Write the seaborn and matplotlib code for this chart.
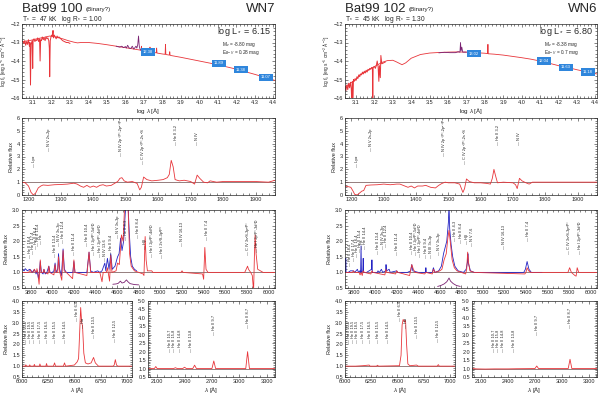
import matplotlib
matplotlib.use('Agg')
import pandas as pd
import seaborn as sns
import matplotlib.pyplot as plt

sns.set_style('ticks')
plt.rcParams['font.family'] = ['Liberation Sans', 'DejaVu Sans']
plt.rcParams['mathtext.fontset'] = 'custom'
plt.rcParams['mathtext.rm'] = 'Liberation Sans'
plt.rcParams['mathtext.it'] = 'Liberation Sans:italic'

RED = '#e8353a'
BLUE = '#2323c4'
PURPLE = '#7a2272'
GREY = '#6b4b4b'
BOX = '#2f86dc'

# ---------------- star info
names = ['Bat99 100', 'Bat99 102']
types = ['WN7', 'WN6']
teff = ['47', '45']
logr = ['1.00', '1.30']
logl = ['6.15', '6.80']
mv = ['-8.80', '-8.38']
ebv = ['0.28', '0.7']

# ---------------- SED (log lambda, log f_lambda)
sed100_model = [(3.04,-12.95),(3.08,-12.9),(3.12,-12.8),(3.16,-12.72),(3.19,-12.65),(3.21,-12.68),(3.23,-12.72),
    (3.26,-12.8),(3.29,-12.9),(3.32,-12.98),(3.34,-13.02),(3.36,-13.0),(3.40,-13.0),(3.45,-13.05),(3.50,-13.12),
    (3.55,-13.2),(3.60,-13.28),(3.65,-13.36),(3.685,-13.42),(3.687,-13.2),(3.689,-13.43),(3.70,-13.45),
    (3.731,-13.5),(3.733,-13.25),(3.735,-13.5),(3.75,-13.53),(3.767,-13.56),(3.769,-13.3),(3.771,-13.57),
    (3.80,-13.62),(3.815,-13.64),(3.817,-13.1),(3.819,-13.65),(3.838,-13.68),(3.84,-13.5),(3.842,-13.69),
    (3.85,-13.71),(3.90,-13.8),(3.95,-13.9),(4.00,-14.0),(4.05,-14.1),(4.10,-14.2),(4.15,-14.32),(4.20,-14.44),
    (4.25,-14.58),(4.30,-14.72),(4.35,-14.87),(4.41,-15.05)]
sed100_obs = [(3.045,-12.95),(3.05,-13.05),(3.055,-12.9),(3.06,-13.15),(3.065,-12.95),(3.07,-13.1),(3.075,-12.85),
    (3.08,-13.2),(3.083,-13.0),(3.086,-15.3),(3.089,-13.1),(3.095,-12.9),(3.098,-14.4),(3.10,-12.9),(3.105,-12.8),
    (3.11,-12.95),(3.115,-12.85),(3.12,-12.9),(3.125,-12.75),(3.13,-12.95),(3.135,-12.8),(3.138,-14.0),
    (3.141,-12.85),(3.145,-12.9),(3.15,-12.7),(3.155,-12.85),(3.16,-12.75),(3.165,-12.9),(3.17,-12.7),
    (3.175,-12.8),(3.18,-12.75),(3.185,-12.9),(3.188,-13.3),(3.19,-14.85),(3.193,-12.9),(3.197,-12.7),
    (3.20,-12.6),(3.205,-12.65),(3.208,-12.35),(3.21,-12.75),(3.215,-12.6),(3.22,-12.7),(3.225,-12.8),
    (3.23,-12.65),(3.235,-12.75),(3.24,-12.7),(3.25,-12.8),(3.26,-12.9),(3.27,-12.95),(3.28,-13.0),(3.29,-13.0),(3.30,-13.05)]
sed100_opt = [(3.55,-13.2),(3.56,-13.23),(3.57,-13.25),(3.58,-13.2),(3.59,-13.28),(3.60,-13.22),(3.605,-13.3),
    (3.612,-13.15),(3.62,-13.3),(3.63,-13.32),(3.637,-13.2),(3.645,-13.35),(3.65,-13.3),(3.657,-13.2),
    (3.662,-13.3),(3.667,-13.1),(3.671,-12.65),(3.675,-13.2),(3.68,-13.38),(3.685,-13.42)]
phot100 = [(3.72,-13.5,'12.38'),(4.105,-14.13,'11.89'),(4.225,-14.46,'11.38'),(4.36,-14.89,'11.07')]

sed102_model = [(3.04,-15.4),(3.07,-15.2),(3.10,-15.0),(3.12,-14.75),(3.15,-14.6),(3.18,-14.4),(3.21,-14.25),
    (3.24,-14.08),(3.27,-13.98),(3.30,-13.96),(3.32,-14.05),(3.35,-14.2),(3.37,-14.1),(3.40,-13.85),(3.45,-13.65),
    (3.50,-13.57),(3.55,-13.54),(3.60,-13.52),(3.65,-13.51),(3.70,-13.52),(3.75,-13.55),(3.80,-13.58),
    (3.815,-13.6),(3.817,-13.1),(3.819,-13.61),(3.85,-13.63),(3.90,-13.68),(3.95,-13.75),(4.00,-13.82),
    (4.05,-13.9),(4.10,-14.0),(4.15,-14.12),(4.20,-14.25),(4.25,-14.35),(4.30,-14.47),(4.35,-14.58),(4.41,-14.7)]
sed102_obs = [(3.04,-15.4),(3.045,-15.6),(3.05,-15.3),(3.055,-15.55),(3.06,-15.2),(3.065,-15.45),(3.07,-15.15),
    (3.074,-15.5),(3.077,-16.3),(3.08,-15.1),(3.083,-16.3),(3.086,-15.0),(3.09,-15.1),(3.095,-14.95),
    (3.10,-15.05),(3.105,-14.85),(3.11,-14.95),(3.115,-14.75),(3.12,-14.85),(3.125,-14.7),(3.13,-14.75),
    (3.135,-14.6),(3.14,-14.7),(3.145,-14.55),(3.15,-14.65),(3.155,-14.5),(3.16,-14.6),(3.165,-14.45),
    (3.17,-14.5),(3.175,-14.4),(3.18,-14.45),(3.185,-14.35),(3.189,-14.4),(3.191,-16.3),(3.193,-14.35),
    (3.20,-14.3),(3.205,-14.4),(3.21,-14.25),(3.215,-14.0),(3.22,-14.3),(3.224,-15.1),(3.227,-14.25),
    (3.232,-14.9),(3.235,-13.7),(3.24,-14.15),(3.25,-14.1),(3.26,-14.05)]
sed102_opt = [(3.55,-13.56),(3.58,-13.53),(3.61,-13.55),(3.64,-13.55),(3.655,-13.5),(3.665,-13.52),
    (3.668,-13.0),(3.671,-13.45),(3.675,-13.25),(3.68,-13.52),(3.70,-13.52)]
phot102 = [(3.74,-13.6,'13.02'),(4.12,-14.0,'12.04'),(4.24,-14.35,'11.63'),(4.36,-14.6,'11.18')]

# ---------------- UV (lambda, relative flux)
uv100 = [(1180,1.0),(1190,0.95),(1200,0.7),(1208,0.2),(1215,0.0),(1222,0.15),(1230,0.55),(1238,0.7),(1245,0.78),
    (1260,0.75),(1280,0.8),(1300,0.82),(1320,0.85),(1340,0.92),(1350,0.85),(1360,0.7),(1370,0.6),(1380,0.75),
    (1390,0.6),(1400,0.7),(1410,0.6),(1420,0.75),(1430,0.8),(1440,0.7),(1455,0.75),(1465,0.9),(1475,1.05),
    (1482,1.3),(1488,1.35),(1495,1.1),(1505,1.0),(1520,1.05),(1535,0.9),(1543,0.4),(1548,0.6),(1555,1.4),
    (1565,1.2),(1580,1.1),(1600,1.15),(1615,1.2),(1628,1.35),(1634,1.6),(1640,2.7),(1646,2.2),(1652,1.2),
    (1665,1.1),(1680,1.15),(1700,1.05),(1712,0.85),(1720,1.55),(1728,1.3),(1740,1.0),(1752,0.95),(1760,1.1),
    (1780,1.0),(1800,1.05),(1850,1.05),(1900,1.05),(1940,1.0),(1960,1.15)]
uv102 = [(1180,0.7),(1190,0.65),(1198,0.6),(1205,0.3),(1210,0.05),(1218,0.0),(1225,0.15),(1232,0.3),(1238,0.35),
    (1245,0.75),(1260,0.78),(1280,0.8),(1300,0.85),(1320,0.8),(1340,0.85),(1350,0.85),(1365,0.7),(1375,0.6),
    (1385,0.7),(1395,0.55),(1405,0.7),(1420,0.7),(1430,0.75),(1445,0.6),(1460,0.55),(1470,0.75),(1480,0.9),
    (1490,1.0),(1500,0.95),(1520,0.95),(1535,0.85),(1545,0.2),(1550,0.5),(1556,1.25),(1565,1.05),(1580,0.95),
    (1600,0.95),(1620,0.9),(1630,0.85),(1636,1.3),(1641,2.0),(1646,1.5),(1652,0.95),(1670,1.0),(1700,0.95),
    (1708,0.8),(1713,0.5),(1720,1.3),(1728,1.1),(1740,0.95),(1750,0.85),(1760,1.0),(1800,1.0),(1960,1.0)]
uv_ids = [(1216,2.2,'Ly\u03b1'),(1262,3.45,'N V 2s-2p'),(1486,3.0,'N IV 2p \u00b3P\u00b0-2p\u00b2 \u00b3P'),
    (1552,2.4,'C IV 2p \u00b2P\u00b0-2s \u00b2S'),(1655,3.9,'He II 3-2'),(1720,3.9,'N IV')]

# ---------------- optical
opt100_obs = [(3720,1.1),(3740,1.05),(3750,1.12),(3770,1.05),(3790,1.1),(3800,1.08),(3815,1.0),(3835,1.1),
    (3850,0.95),(3860,1.05),(3872,0.8),(3880,1.0),(3889,1.35),(3900,1.0),(3915,0.95),(3923,1.1),(3935,0.95),
    (3950,1.0),(3968,1.2),(3980,1.0),(4000,1.0),(4015,1.05),(4026,1.3),(4035,1.0),(4050,1.1),(4058,1.6),
    (4068,1.1),(4085,0.9),(4100,1.75),(4112,1.1),(4130,1.0),(4150,1.0),(4175,1.0),(4190,1.0),(4200,1.35),
    (4210,1.0),(4240,1.0),(4280,1.0),(4320,1.0),(4340,1.65),(4355,1.05),(4380,1.0),(4420,1.05),(4440,1.0),
    (4460,1.05),(4486,1.3),(4495,1.05),(4510,1.45),(4525,1.1),(4541,1.6),(4555,1.1),(4580,1.2),(4604,1.5),
    (4618,1.6),(4632,2.1),(4645,1.7),(4660,2.0),(4675,2.9),(4686,3.2),(4700,3.2),(4712,2.3),(4725,1.5),
    (4740,1.2),(4760,1.1),(4780,1.05)]
opt100_mod = [(3720,1.0),(3780,1.0),(3797,1.08),(3805,1.0),(3825,1.02),(3835,1.1),(3845,1.0),(3855,1.02),
    (3858,1.12),(3866,1.0),(3878,0.62),(3883,0.95),(3889,1.4),(3896,1.0),(3915,1.0),(3923,1.1),(3930,1.0),
    (3960,0.95),(3968,1.2),(3976,1.0),(4015,0.92),(4026,1.25),(4035,1.0),(4050,1.0),(4058,1.5),(4066,1.05),
    (4088,0.75),(4100,1.7),(4110,1.05),(4130,1.0),(4188,0.8),(4200,1.4),(4210,1.0),(4320,0.9),(4340,1.65),
    (4355,1.0),(4440,1.0),(4460,0.7),(4471,1.0),(4500,1.0),(4510,1.15),(4530,0.72),(4541,1.55),(4552,1.0),
    (4590,1.05),(4604,1.3),(4620,1.25),(4640,2.2),(4655,2.0),(4670,3.2),(4700,3.2),(4715,1.6),(4730,1.2),
    (4760,1.05),(4800,1.0),(4840,0.95),(4848,0.9),(4859,2.15),(4868,1.4),(4880,1.05),(4920,1.05),(4930,1.0),
    (5000,1.0),(5190,1.0),(5200,1.05),(5210,1.0),(5390,0.95),(5400,0.78),(5411,1.8),(5422,1.1),(5440,1.0),
    (5780,1.0),(5800,1.15),(5806,1.2),(5815,1.1),(5835,1.0),(5850,0.9),(5862,0.4),(5870,1.6),(5876,2.2),
    (5885,1.6),(5900,1.1),(5950,1.0),(6060,1.0)]
abs100 = [(4560,0.62),(4590,0.63),(4610,0.65),(4630,0.72),(4645,0.66),(4665,0.68),(4686,0.76),(4700,0.7),
    (4720,0.64),(4760,0.61),(4800,0.6)]
opt_ids100 = [(3797,1.45,'He II 18-4'),(3820,1.6,'He II 17-4'),(3845,1.75,'He II 16-4'),(3870,1.85,'He II 15-4'),
    (3895,1.9,'H\u03b5'),(4026,1.5,'He II 13-4'),(4060,1.85,'N IV 3s-3p'),(4100,1.95,'He II 12-4'),
    (4200,1.55,'He II 11-4'),(4320,1.85,'He II 10-4'),(4388,1.55,'He I 2p\u00b9P\u00b0-5d\u00b9D'),
    (4440,1.5,'He I 2p\u00b3P\u00b0-4d\u00b3D'),(4490,1.35,'N IV 13-6'),(4541,1.55,'He II 9-4'),
    (4604,2.1,'N V 3s-3p'),(4686,2.05,'He II 4-3'),(4790,2.1,'He II 8-4'),(4861,1.75,'H\u03b2'),
    (4922,1.5,'He I 2p\u00b9P\u00b0-4d\u00b9D'),(5016,1.45,'He I 2s\u00b9S-3p\u00b9P\u00b0'),
    (5200,1.85,'N IV 16-13'),(5430,2.05,'He II 7-4'),(5806,1.55,'C IV 3s\u00b2S-3p\u00b2P\u00b0'),
    (5890,1.65,'He I 2p\u00b3P\u00b0-3d\u00b3D')]

opt102_obs = [(3720,1.0),(3725,1.0),(3727,1.45),(3730,1.0),(3750,1.0),(3770,1.05),(3797,1.05),(3810,1.0),
    (3835,1.1),(3845,1.0),(3858,1.05),(3865,1.0),(3869,1.85),(3873,1.0),(3885,1.05),(3889,1.45),(3893,1.0),
    (3920,1.0),(3967,1.1),(3970,1.4),(3974,1.0),(4020,1.0),(4026,1.05),(4040,1.0),(4058,1.1),(4070,1.0),
    (4098,1.05),(4101,1.25),(4105,1.05),(4130,1.1),(4140,1.0),(4200,1.05),(4210,1.0),(4300,1.0),(4330,1.05),
    (4340,1.25),(4350,1.05),(4400,1.0),(4468,1.0),(4471,1.15),(4475,1.0),(4530,1.0),(4541,1.15),(4555,1.0),
    (4590,1.05),(4615,1.2),(4635,1.6),(4650,1.8),(4665,2.0),(4680,2.6),(4686,3.2),(4692,2.4),(4705,1.9),
    (4720,1.5),(4740,1.2),(4770,1.05),(4820,1.0),(4845,1.1),(4858,1.35),(4861,1.6),(4865,1.3),(4885,1.05),
    (4920,1.0),(5000,1.0),(5100,1.0),(5380,1.0),(5395,1.1),(5411,1.35),(5428,1.1),(5450,1.0),(5550,1.0)]
opt102_mod = [(3720,1.0),(3790,1.0),(3797,1.05),(3810,1.0),(3850,1.0),(3860,0.92),(3870,1.0),(3880,0.9),
    (3889,1.05),(3900,1.0),(3960,0.95),(3970,1.05),(3980,1.0),(4090,0.92),(4100,1.1),(4110,1.0),(4190,0.95),
    (4200,1.05),(4210,1.0),(4320,0.9),(4340,1.25),(4355,1.1),(4370,1.0),(4460,0.95),(4471,1.0),(4530,0.95),
    (4541,1.1),(4555,1.0),(4600,1.05),(4620,1.1),(4640,1.4),(4660,1.6),(4675,2.1),(4686,2.35),(4700,1.9),
    (4715,1.4),(4735,1.15),(4760,1.05),(4800,1.0),(4840,0.95),(4850,1.1),(4859,1.65),(4868,1.3),(4880,1.05),
    (4920,1.0),(5390,0.95),(5400,1.0),(5411,1.15),(5425,1.05),(5445,1.0),(5790,1.0),(5806,1.15),(5822,1.0),
    (5855,0.9),(5866,0.88),(5876,1.15),(5890,1.0),(6060,1.0)]
abs102 = [(4580,0.55),(4610,0.58),(4640,0.63),(4665,0.7),(4686,0.82),(4700,0.72),(4725,0.64),(4755,0.58),(4790,0.55)]
opt_ids102 = [(3770,1.2,'He II 18-4'),(3800,1.35,'He II 17-4'),(3830,1.5,'He II 16-4'),(3855,1.65,'He II 15-4'),
    (3880,1.75,'H\u03b5'),(3905,1.75,'He II 14-4'),(4030,1.6,'He II 13-4'),(4070,1.75,'N IV 3s-3p'),
    (4100,1.8,'He II 12-4'),(4200,1.55,'He II 11-4'),(4340,1.6,'He II 10-4'),(4380,1.55,'He I 2p\u00b9P\u00b0-5d\u00b9D'),
    (4420,1.5,'He I 2p\u00b3P\u00b0-4d\u00b3D'),(4470,1.45,'He II 9-4'),(4520,1.45,'N III 3s-3p'),
    (4590,1.55,'N V 3s-3p'),(4740,2.0,'He II 4-3'),(4800,1.95,'He II 8-4'),(4850,1.9,'H\u03b2'),
    (4900,1.85,'N V 7-6'),(5200,1.75,'N IV 16-13'),(5420,2.0,'He II 7-4'),(5800,1.6,'C IV 3s\u00b2S-3p\u00b2P\u00b0'),
    (5900,1.6,'He I 2p\u00b3P\u00b0-3d\u00b3D')]

# ---------------- red / near IR
ir100 = [(6000,1.0),(6030,1.0),(6036,1.06),(6045,1.0),(6070,1.0),(6074,1.06),(6080,1.0),(6112,1.0),(6118,1.08),
    (6125,1.0),(6165,1.0),(6171,1.1),(6178,1.0),(6228,1.0),(6234,1.12),(6241,1.0),(6300,1.0),(6311,1.15),
    (6320,1.0),(6395,1.0),(6406,1.15),(6416,1.0),(6500,1.05),(6527,1.2),(6540,1.35),(6550,2.5),(6560,3.7),
    (6570,3.0),(6578,2.85),(6590,1.6),(6605,1.15),(6630,1.1),(6660,1.15),(6683,1.4),(6700,1.15),(6730,1.0),
    (6870,1.0),(6880,1.05),(6891,1.3),(6902,1.05),(6915,1.0),(7050,1.0)]
ir102 = [(6000,1.0),(6100,1.0),(6170,1.02),(6230,1.05),(6240,1.0),(6300,1.0),(6311,1.04),(6320,1.0),(6520,1.02),
    (6535,1.5),(6545,2.9),(6555,3.15),(6568,3.05),(6578,3.1),(6588,2.0),(6600,1.1),(6620,1.02),(6683,1.05),
    (6700,1.0),(6880,1.0),(6891,1.07),(6900,1.0),(7050,1.0)]
ir_ids = [(6036,2.05,'He II 20-5'),(6074,2.05,'He II 19-5'),(6118,2.05,'He II 18-5'),(6171,2.05,'He II 17-5'),
    (6234,2.05,'He II 16-5'),(6311,2.05,'He II 15-5'),(6406,2.05,'He II 14-5'),(6527,3.1,'He II 6-4'),
    (6580,2.75,'H\u03b1'),(6683,2.3,'He II 13-5'),(6891,2.1,'He II 12-5')]

nir100 = [(2000,1.0),(2070,1.0),(2085,1.12),(2100,1.0),(2280,1.0),(2300,1.05),(2320,1.0),(2380,1.0),(2400,1.08),
    (2420,1.0),(2490,1.0),(2510,1.2),(2530,1.0),(2700,1.0),(2720,1.45),(2740,1.0),(3070,1.0),(3090,2.0),
    (3110,1.0),(3390,1.0)]
nir102 = [(2000,1.0),(2050,0.98),(2150,0.97),(2250,0.98),(2400,0.98),(2500,0.99),(2700,1.0),(2720,1.15),
    (2740,1.0),(3070,1.0),(3090,1.55),(3110,1.0),(3390,1.0)]
nir_ids = [(2240,2.0,'He II 10-7'),(2290,2.0,'He II 15-8'),(2350,2.0,'He II 14-8'),(2470,2.0,'He II 13-8'),
    (2720,3.0,'He II 9-7'),(3090,3.4,'He II 8-7')]

stars = [
    dict(sed_model=sed100_model, sed_obs=sed100_obs, sed_opt=sed100_opt, phot=phot100, uv=uv100,
         opt_obs=opt100_obs, opt_mod=opt100_mod, absn=abs100, opt_ids=opt_ids100, ir=ir100, nir=nir100, dx=0),
    dict(sed_model=sed102_model, sed_obs=sed102_obs, sed_opt=sed102_opt, phot=phot102, uv=uv102,
         opt_obs=opt102_obs, opt_mod=opt102_mod, absn=abs102, opt_ids=opt_ids102, ir=ir102, nir=nir102, dx=323),
]

W, H = 600, 394
fig = plt.figure(figsize=(W / 100, H / 100), dpi=100)


def box(x0, y0, x1, y1):
    return fig.add_axes([x0 / W, 1 - y1 / H, (x1 - x0) / W, (y1 - y0) / H])


def style(ax):
    ax.minorticks_on()
    ax.tick_params(which='both', direction='in', top=True, right=True, width=0.4, labelsize=4, pad=1.5)
    ax.tick_params(which='major', length=2.2)
    ax.tick_params(which='minor', length=1.1)
    for s in ax.spines.values():
        s.set_linewidth(0.5)


def line(ax, pts, color, lw=0.6):
    df = pd.DataFrame(pts, columns=['x', 'y'])
    sns.lineplot(data=df, x='x', y='y', ax=ax, color=color, lw=lw, estimator=None, sort=False, legend=False)
    ax.set_xlabel('')
    ax.set_ylabel('')


def ids(ax, items, fs=2.8):
    for x, y, t in items:
        ax.text(x, y, '\u2014 ' + t, rotation=90, ha='center', va='bottom', fontsize=fs, color='#222222')


for i, st in enumerate(stars):
    dx = st['dx']
    x0 = 22 + dx
    x1 = 275 + dx if i == 0 else 597
    # header
    fig.text(x0 / W, 1 - 12 / H, names[i], fontsize=9.5, va='baseline')
    fig.text((x0 + 64) / W, 1 - 11 / H, '(Binary?)', fontsize=4.5, va='baseline')
    fig.text(x1 / W, 1 - 12 / H, types[i], fontsize=9.5, va='baseline', ha='right')
    fig.text(x0 / W, 1 - 21 / H, r'T$_*$ =  %s kK   log R$_*$ = %s' % (teff[i], logr[i]), fontsize=4.8,
             va='baseline')

    # SED
    ax = box(x0, 24, x1, 98)
    line(ax, st['sed_obs'], RED, 0.7)
    line(ax, st['sed_model'], RED, 0.6)
    line(ax, st['sed_opt'], PURPLE, 0.6)
    for lx, ly, lab in st['phot']:
        ax.text(lx, ly, lab, fontsize=3.0, color='white', ha='center', va='center',
                bbox=dict(boxstyle='square,pad=0.45', fc=BOX, ec='none'))
    ax.set_xlim(3.04, 4.41)
    ax.set_ylim(-16, -12)
    ax.set_xticks([3.1 + 0.1 * k for k in range(14)])
    ax.set_xticklabels(['%.1f' % (3.1 + 0.1 * k) for k in range(14)])
    ax.set_yticks([-16, -15, -14, -13, -12])
    style(ax)
    ax.set_xlabel(r'log $\lambda$ [Å]', fontsize=4.5, labelpad=1)
    ax.set_ylabel(r'log $f_\lambda$ [erg s$^{-1}$ cm$^{-2}$ Å$^{-1}$]', fontsize=3.4, labelpad=1)
    ax.text(0.985, 0.86, r'log L$_*$ = %s' % logl[i], transform=ax.transAxes, fontsize=6.5, ha='right',
            va='baseline')
    ax.text(0.79, 0.7, r'M$_v$ = %s mag' % mv[i], transform=ax.transAxes, fontsize=3.4, ha='left',
            va='baseline')
    ax.text(0.79, 0.59, r'E$_{B-V}$ = %s mag' % ebv[i], transform=ax.transAxes, fontsize=3.4, ha='left',
            va='baseline')

    # UV
    ax = box(x0, 118, x1, 195)
    ax.axhline(1, color=GREY, lw=0.5)
    line(ax, st['uv'], RED, 0.6)
    ax.set_xlim(1180, 1960)
    ax.set_ylim(0, 6)
    ax.set_xticks(range(1200, 2000, 100))
    ax.set_yticks(range(0, 7))
    style(ax)
    ax.set_ylabel('Relative flux', fontsize=4, labelpad=2)
    ids(ax, uv_ids)

    # optical
    ax = box(x0, 210, x1, 288)
    ax.axhline(1, color=GREY, lw=0.5)
    line(ax, st['opt_obs'], BLUE, 0.6)
    line(ax, st['opt_mod'], RED, 0.6)
    line(ax, st['absn'], PURPLE, 0.6)
    ax.set_xlim(3720, 6060)
    ax.set_ylim(0.5, 3.0)
    ax.set_xticks(range(3800, 6100, 200))
    ax.set_yticks([0.5, 1.0, 1.5, 2.0, 2.5, 3.0])
    ax.set_yticklabels(['0.5', '1.0', '1.5', '2.0', '2.5', '3.0'])
    style(ax)
    ax.set_ylabel('Relative flux', fontsize=4, labelpad=2)
    ids(ax, st['opt_ids'])

    # red
    bx1 = x0 + 110 if i == 0 else 455
    ax = box(x0, 301, bx1, 377)
    ax.axhline(1, color=GREY, lw=0.5)
    line(ax, st['ir'], RED, 0.6)
    ax.set_xlim(6000, 7050)
    ax.set_ylim(0.5, 4.0)
    ax.set_xticks([6000, 6250, 6500, 6750, 7000])
    ax.set_yticks([0.5, 1.0, 1.5, 2.0, 2.5, 3.0, 3.5, 4.0])
    ax.set_yticklabels(['0.5', '1.0', '1.5', '2.0', '2.5', '3.0', '3.5', '4.0'])
    style(ax)
    ax.set_ylabel('Relative flux', fontsize=4, labelpad=2)
    ax.set_xlabel(r'$\lambda$ [Å]', fontsize=4.5, labelpad=1)
    ids(ax, ir_ids)

    # near IR
    bx0 = 148 if i == 0 else 472
    ax = box(bx0, 301, x1, 377)
    ax.axhline(1, color=GREY, lw=0.5)
    line(ax, st['nir'], RED, 0.6)
    ax.set_xlim(2000, 3390)
    ax.set_ylim(0.5, 5.0)
    ax.set_xticks([2100, 2400, 2700, 3000, 3300])
    yt = [0.5 + 0.5 * k for k in range(10)]
    ax.set_yticks(yt)
    ax.set_yticklabels(['%.1f' % v for v in yt])
    style(ax)
    ax.set_xlabel(r'$\lambda$ [Å]', fontsize=4.5, labelpad=1)
    ids(ax, nir_ids)

fig.savefig('out.png', dpi=100)
